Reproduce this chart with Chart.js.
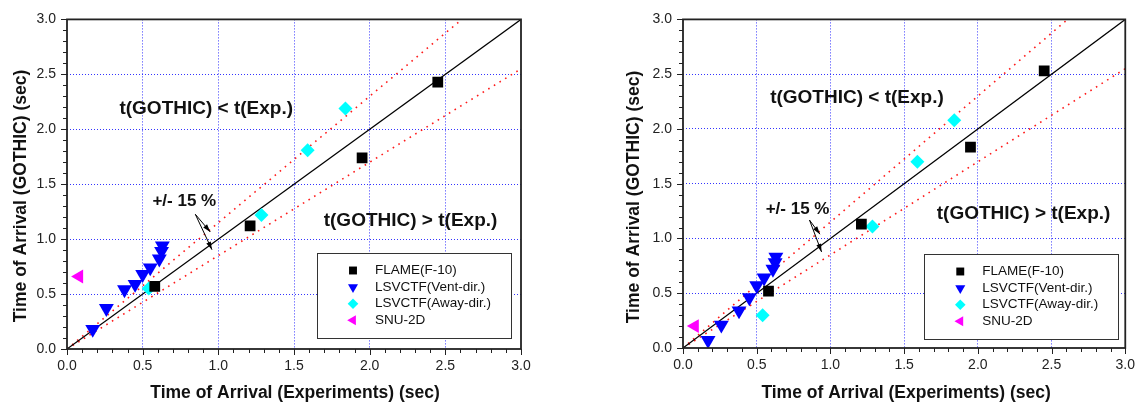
<!DOCTYPE html>
<html lang="en">
<head>
  <meta charset="UTF-8" />
  <title>Time of Arrival: GOTHIC vs Experiments</title>
  <script src="https://cdn.jsdelivr.net/npm/chart.js"></script>
  <style>
    body {
      margin: 0;
      background: #fff;
      width: 1144px;
      height: 405px;
      overflow: hidden;
      position: relative;
    }
    .panel { position: absolute; top: 0; }
    #left { left: 0; }
    #right { left: 616px; }
  </style>
</head>
<body>
  <div class="panel" id="left"><canvas id="chartLeft" width="572" height="405"></canvas></div>
  <div class="panel" id="right"><canvas id="chartRight" width="528" height="405"></canvas></div>

  <script>
    // experiment times (x) shared by both panels
    const flameX = [0.58, 1.21, 1.95, 2.45];
    const ventX = [0.17, 0.26, 0.38, 0.45, 0.50, 0.55, 0.61, 0.625, 0.63];
    const awayX = [0.54, 1.285, 1.59, 1.84];
    const snuX = [0.08];

    // GOTHIC times, left panel
    const flameYLeft = [0.57, 1.12, 1.74, 2.43];
    const ventYLeft = [0.18, 0.37, 0.54, 0.59, 0.68, 0.74, 0.82, 0.89, 0.94];
    const awayYLeft = [0.55, 1.22, 1.81, 2.19];
    const snuYLeft = [0.66];

    // GOTHIC times, right panel
    const flameYRight = [0.52, 1.13, 1.835, 2.53];
    const ventYRight = [0.07, 0.21, 0.34, 0.46, 0.57, 0.64, 0.72, 0.78, 0.83];
    const awayYRight = [0.30, 1.11, 1.70, 2.08];
    const snuYRight = [0.20];

    // reference lines: 1:1 and +/- 15 %
    const diagX = [0, 3];
    const diagY = [0, 3];
    const upperY = [0, 3.45];
    const lowerY = [0, 2.55];

    const tickValues = [0.0, 0.5, 1.0, 1.5, 2.0, 2.5, 3.0];
    const seriesLabels = ['FLAME(F-10)', 'LSVCTF(Vent-dir.)', 'LSVCTF(Away-dir.)', 'SNU-2D'];

    const FONT = "'Liberation Sans', Arial, sans-serif";
    Chart.defaults.font.family = FONT;

    const markers = [
      { style: 'rect', color: '#000000', r: 7.6, rot: 0, lr: 5.6 },
      { style: 'triangle', color: '#0000ff', r: 8.6, rot: 180, lr: 5.8 },
      { style: 'rectRot', color: '#00ffff', r: 7, rot: 0, lr: 5.3 },
      { style: 'triangle', color: '#ff00ff', r: 8, rot: 270, lr: 5.8 }
    ];

    const pts = (xs, ys) => xs.map((v, i) => ({ x: v, y: ys[i] }));
    const isMajor = v => tickValues.some(t => Math.abs(t - v) < 1e-6);

    function drawMarker(ctx, m, x, y, r) {
      ctx.fillStyle = m.color;
      ctx.beginPath();
      if (m.style === 'rect') {
        const s = r * Math.SQRT1_2;
        ctx.rect(x - s, y - s, 2 * s, 2 * s);
      } else if (m.style === 'rectRot') {
        ctx.moveTo(x - r, y); ctx.lineTo(x, y - r); ctx.lineTo(x + r, y); ctx.lineTo(x, y + r);
      } else {
        let a = m.rot * Math.PI / 180;
        for (let k = 0; k < 3; k++) {
          const px = x + Math.sin(a) * r, py = y - Math.cos(a) * r;
          k === 0 ? ctx.moveTo(px, py) : ctx.lineTo(px, py);
          a += 2 * Math.PI / 3;
        }
      }
      ctx.closePath();
      ctx.fill();
    }

    function axis(id, pad, size) {
      return {
        type: 'linear',
        min: 0,
        max: 3,
        ticks: {
          stepSize: 0.1,
          autoSkip: false,
          maxRotation: 0,
          padding: pad,
          color: '#222',
          font: { size: 14 },
          callback: v => isMajor(v) ? v.toFixed(1) : ''
        },
        grid: {
          drawTicks: false,
          lineWidth: 1,
          color: c => (c.tick && isMajor(c.tick.value) && c.tick.value > 0.01 && c.tick.value < 2.99)
            ? 'rgba(30,30,255,0.9)' : 'rgba(0,0,0,0)'
        },
        border: { display: false, dash: [1, 2] },
        afterFit: s => { if (id === 'x') s.height = size; else s.width = size; }
      };
    }

    const decor = {
      id: 'decor',
      afterDraw(chart, args, o) {
        const { ctx, chartArea: a, scales: { x, y } } = chart;
        const X = v => x.getPixelForValue(v);
        const Y = v => y.getPixelForValue(v);
        ctx.save();

        // tick marks, outward
        ctx.strokeStyle = '#222';
        ctx.lineWidth = 1;
        ctx.beginPath();
        x.ticks.forEach(t => {
          const px = Math.round(X(t.value)) + 0.5;
          ctx.moveTo(px, a.bottom);
          ctx.lineTo(px, a.bottom + (isMajor(t.value) ? 6 : 4));
        });
        y.ticks.forEach(t => {
          const py = Math.round(Y(t.value)) + 0.5;
          ctx.moveTo(a.left, py);
          ctx.lineTo(a.left - (isMajor(t.value) ? 6 : 4), py);
        });
        ctx.stroke();

        // frame
        ctx.lineWidth = 1.8;
        ctx.strokeRect(a.left, a.top, a.right - a.left, a.bottom - a.top);

        // region labels
        ctx.fillStyle = '#111';
        ctx.textAlign = 'center';
        ctx.textBaseline = 'middle';
        ctx.font = 'bold 19px ' + FONT;
        ctx.fillText('t(GOTHIC) < t(Exp.)', X(o.lessAt[0]), Y(o.lessAt[1]));
        ctx.fillText('t(GOTHIC) > t(Exp.)', X(o.moreAt[0]), Y(o.moreAt[1]));
        ctx.font = 'bold 17px ' + FONT;
        ctx.fillText('+/- 15 %', X(o.pctAt[0]), Y(o.pctAt[1]));

        // arrows to the band lines
        ctx.strokeStyle = '#000';
        ctx.fillStyle = '#000';
        ctx.lineWidth = 1;
        o.arrowTo.forEach(p => {
          const x0 = X(o.arrowFrom[0]), y0 = Y(o.arrowFrom[1]);
          const x1 = X(p[0]), y1 = Y(p[1]);
          const ang = Math.atan2(y1 - y0, x1 - x0);
          ctx.beginPath();
          ctx.moveTo(x0, y0);
          ctx.lineTo(x1, y1);
          ctx.stroke();
          ctx.beginPath();
          ctx.moveTo(x1, y1);
          ctx.lineTo(x1 - 8 * Math.cos(ang) + 2.5 * Math.sin(ang), y1 - 8 * Math.sin(ang) - 2.5 * Math.cos(ang));
          ctx.lineTo(x1 - 8 * Math.cos(ang) - 2.5 * Math.sin(ang), y1 - 8 * Math.sin(ang) + 2.5 * Math.cos(ang));
          ctx.closePath();
          ctx.fill();
        });

        // legend box
        const bw = 194, bh = 85;
        const bx = a.right - o.legendRight - bw, by = a.bottom - o.legendBottom - bh;
        ctx.fillStyle = '#fff';
        ctx.fillRect(bx, by, bw, bh);
        ctx.strokeStyle = '#333';
        ctx.lineWidth = 1;
        ctx.strokeRect(Math.round(bx) + 0.5, Math.round(by) + 0.5, bw, bh);
        ctx.font = '13.5px ' + FONT;
        ctx.textAlign = 'left';
        seriesLabels.forEach((lab, i) => {
          const ry = by + 17.5 + i * 16.6;
          drawMarker(ctx, markers[i], bx + 36, ry, markers[i].lr);
          ctx.fillStyle = '#111';
          ctx.fillText(lab, bx + 58, ry);
        });

        // axis titles
        ctx.fillStyle = '#111';
        ctx.textAlign = 'center';
        ctx.font = 'bold 17.5px ' + FONT;
        ctx.fillText('Time of Arrival (Experiments) (sec)', (a.left + a.right) / 2 + o.xTitleDx, 393);
        ctx.translate(o.yTitleX, o.yTitleY);
        ctx.rotate(-Math.PI / 2);
        ctx.fillText('Time of Arrival (GOTHIC) (sec)', 0, 0);

        ctx.restore();
      }
    };

    function makeChart(id, ys, pad, ann) {
      const datasets = markers.map((m, i) => ({
        label: seriesLabels[i],
        data: pts([flameX, ventX, awayX, snuX][i], ys[i]),
        pointStyle: m.style,
        rotation: m.rot,
        pointRadius: m.r,
        pointHoverRadius: m.r,
        pointBorderWidth: 0,
        backgroundColor: m.color,
        borderColor: m.color,
        order: 1
      }));
      datasets.push(
        { data: pts(diagX, diagY), showLine: true, borderColor: '#000', borderWidth: 1.2, pointRadius: 0, order: 5 },
        { data: pts(diagX, upperY), showLine: true, borderColor: '#ff1a1a', borderWidth: 1.6, borderDash: [1.6, 5], pointRadius: 0, order: 6 },
        { data: pts(diagX, lowerY), showLine: true, borderColor: '#ff1a1a', borderWidth: 1.6, borderDash: [1.6, 5], pointRadius: 0, order: 6 }
      );

      return new Chart(document.getElementById(id), {
        type: 'scatter',
        data: { datasets },
        options: {
          responsive: false,
          animation: false,
          layout: { padding: pad },
          scales: {
            x: axis('x', 9, ann.xHeight),
            y: axis('y', 11, 67)
          },
          plugins: {
            legend: { display: false },
            tooltip: { enabled: false },
            decor: ann
          }
        },
        plugins: [decor]
      });
    }

    makeChart('chartLeft', [flameYLeft, ventYLeft, awayYLeft, snuYLeft],
      { top: 14, right: 51, left: 0, bottom: 0 },
      {
        xHeight: 56,
        lessAt: [0.92, 2.19], moreAt: [2.27, 1.17], pctAt: [0.775, 1.34],
        arrowFrom: [0.848, 1.226], arrowTo: [[0.947, 1.065], [0.958, 0.904]],
        legendRight: 10, legendBottom: 11,
        xTitleDx: 1, yTitleX: 21, yTitleY: 196
      });

    makeChart('chartRight', [flameYRight, ventYRight, awayYRight, snuYRight],
      { top: 15, right: 11, left: 0, bottom: 0 },
      {
        xHeight: 57,
        lessAt: [1.18, 2.28], moreAt: [2.31, 1.225], pctAt: [0.777, 1.27],
        arrowFrom: [0.858, 1.168], arrowTo: [[0.929, 1.039], [0.94, 0.877]],
        legendRight: 7, legendBottom: 9,
        xTitleDx: 2, yTitleX: 18, yTitleY: 197
      });
  </script>
</body>
</html>
